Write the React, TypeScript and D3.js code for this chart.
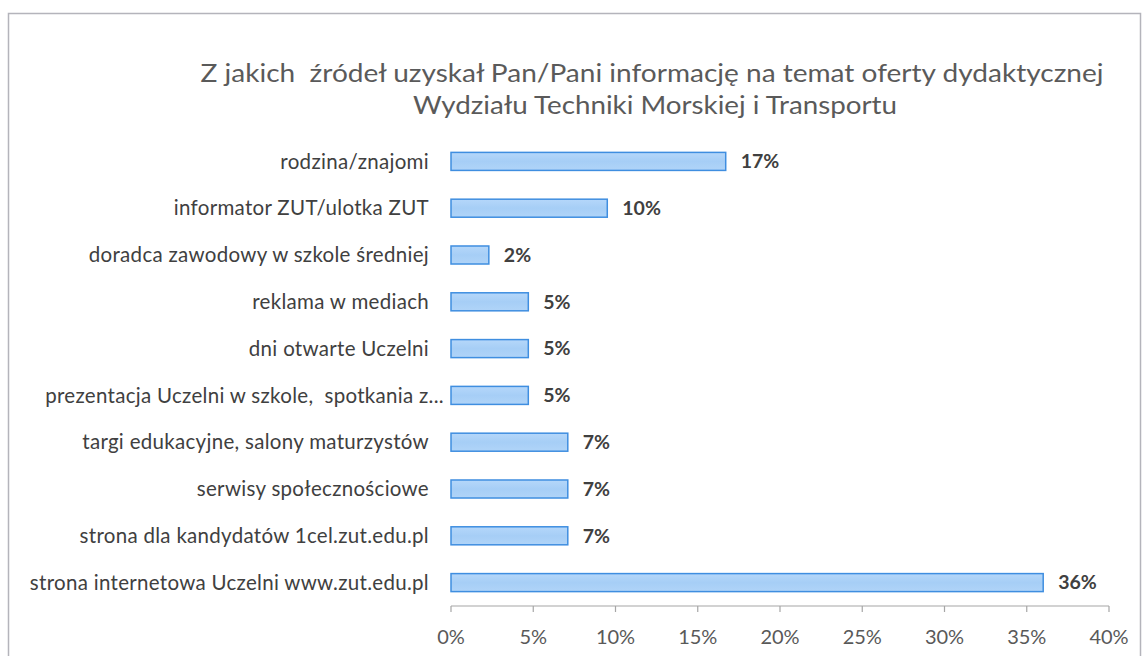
import React from "react";
import * as d3 from "d3";

const categories: string[] = [
  "rodzina/znajomi",
  "informator ZUT/ulotka ZUT",
  "doradca zawodowy w szkole średniej",
  "reklama w mediach",
  "dni otwarte Uczelni",
  "prezentacja Uczelni w szkole,  spotkania z...",
  "targi edukacyjne, salony maturzystów",
  "serwisy społecznościowe",
  "strona dla kandydatów 1cel.zut.edu.pl",
  "strona internetowa Uczelni www.zut.edu.pl",
];

const values: number[] = [0.167, 0.095, 0.023, 0.047, 0.047, 0.047, 0.071, 0.071, 0.071, 0.36];

const xTicks: number[] = [0, 0.05, 0.1, 0.15, 0.2, 0.25, 0.3, 0.35, 0.4];

const titleLines: string[] = [
  "Z jakich  źródeł uzyskał Pan/Pani informację na temat oferty dydaktycznej",
  "Wydziału Techniki Morskiej i Transportu",
];

const FONT = "Lato, 'Open Sans', 'DejaVu Sans', sans-serif";

export default function App() {
  const W = 1146;
  const H = 656;
  const x = d3.scaleLinear().domain([0, 0.4]).range([451, 1109]);
  const y = d3
    .scaleBand<string>()
    .domain(categories)
    .range([138, 606])
    .paddingInner(0.615)
    .paddingOuter(0.3075);
  const bh = y.bandwidth();
  const pct = d3.format(".0%");
  const axisY = 606;

  return (
    <svg
      width={W}
      height={H}
      style={{ position: "absolute", left: 0, top: 0, background: "#fff", whiteSpace: "pre" }}
      fontFamily={FONT}
    >
      <defs>
        <linearGradient id="barGrad" x1="0" y1="0" x2="0" y2="1">
          <stop offset="0%" stopColor="#b5d7fa" />
          <stop offset="50%" stopColor="#a6cef6" />
          <stop offset="100%" stopColor="#b0d4f8" />
        </linearGradient>
      </defs>
      <rect x={0} y={0} width={W} height={H} fill="#fff" />
      <rect x={8.5} y={13.5} width={1132} height={700} fill="none" stroke="#b4b4bb" strokeWidth={1.5} />

      {/* title */}
      <text
        x={652}
        y={82}
        textAnchor="middle"
        fontSize={25}
        fill="#5a5a5a"
        textLength={903}
        lengthAdjust="spacingAndGlyphs"
        style={{ whiteSpace: "pre" }}
      >
        {titleLines[0]}
      </text>
      <text
        x={655}
        y={114}
        textAnchor="middle"
        fontSize={25}
        fill="#5a5a5a"
        textLength={484}
        lengthAdjust="spacingAndGlyphs"
      >
        {titleLines[1]}
      </text>

      {/* bars */}
      {categories.map((c, i) => {
        const y0 = y(c)!;
        const xe = x(values[i]);
        const isTrunc = c.endsWith("...");
        return (
          <g key={c}>
            <text
              x={isTrunc ? 444 : 429}
              y={y0 + bh / 2}
              dy="0.35em"
              textAnchor="end"
              fontSize={20.5}
              letterSpacing={0.3}
              fill="#404040"
              style={{ whiteSpace: "pre" }}
            >
              {c}
            </text>
            <rect
              x={x(0)}
              y={y0}
              width={xe - x(0)}
              height={bh}
              fill="url(#barGrad)"
              stroke="#3f8ee0"
              strokeWidth={1.5}
            />
            <text
              x={xe + 15}
              y={y0 + bh / 2}
              dy="0.35em"
              fontSize={19.5}
              fontWeight="bold"
              fill="#404040"
            >
              {pct(values[i])}
            </text>
          </g>
        );
      })}

      {/* x axis */}
      <line x1={x(0)} x2={x(0.4)} y1={axisY} y2={axisY} stroke="#a6a6a6" strokeWidth={1.2} />
      {xTicks.map((t) => (
        <g key={t}>
          <line x1={x(t)} x2={x(t)} y1={axisY} y2={axisY + 6} stroke="#a6a6a6" strokeWidth={1.2} />
          <text x={x(t)} y={637} dy="0.35em" textAnchor="middle" fontSize={20} fill="#595959">
            {pct(t)}
          </text>
        </g>
      ))}
    </svg>
  );
}
